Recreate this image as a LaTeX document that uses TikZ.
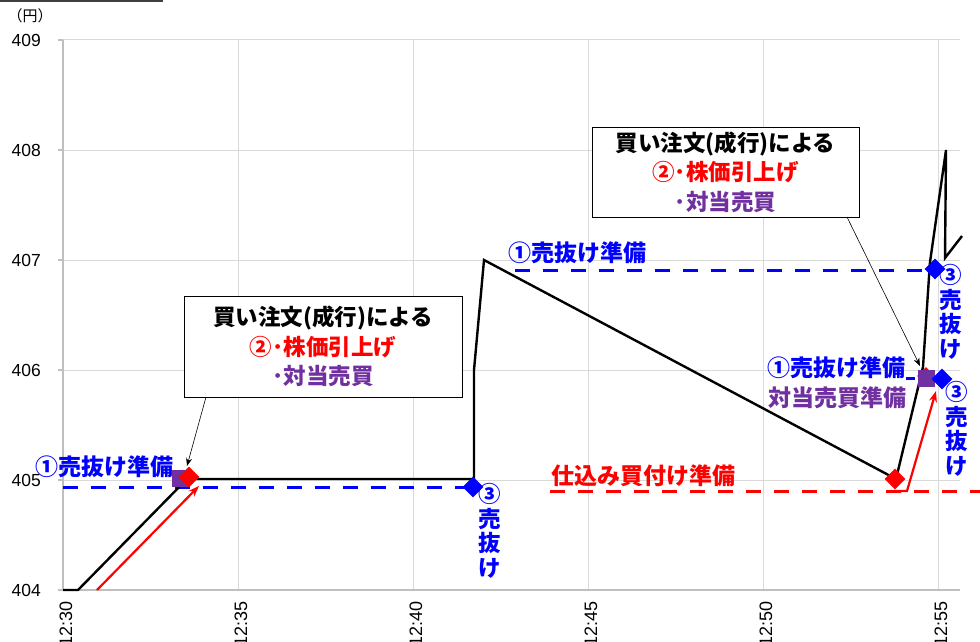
\documentclass[tikz,border=0pt]{standalone}
\usepackage{fontspec}
\setmainfont{Liberation Sans}
\newfontfamily\jp{Noto Sans CJK JP}
\usetikzlibrary{shapes.geometric,arrows.meta}
\definecolor{gridc}{HTML}{D9D9D9}
\definecolor{axisc}{HTML}{BFBFBF}
\definecolor{pur}{HTML}{7030A0}
\definecolor{bl}{HTML}{0000FF}
\definecolor{rd}{HTML}{FF0000}
\begin{document}
\begin{tikzpicture}[x=1pt,y=-1pt,
  gridline/.style={draw=gridc,line width=1pt},
  axisline/.style={draw=axisc,line width=1.5pt},
  ylab/.style={font=\fontsize{17.5}{20}\selectfont,anchor=east,inner sep=0pt},
  xlab/.style={font=\fontsize{18}{20}\selectfont,rotate=90,anchor=east,inner sep=0pt},
  dataline/.style={draw=black,line width=2.4pt,line join=miter},
  bluedash/.style={draw=bl,line width=3pt,dash pattern=on 15pt off 13pt},
  reddash/.style={draw=rd,line width=3pt,dash pattern=on 15pt off 13pt},
  redarrow/.style={draw=rd,line width=2.2pt,-{Stealth[length=11pt,width=8pt]}},
  callout/.style={draw=black,line width=0.6pt,-{Stealth[length=8pt,width=6pt]}},
  dia/.style={diamond,minimum width=21pt,minimum height=21pt,inner sep=0pt},
  sq/.style={rectangle,minimum width=17pt,minimum height=17pt,inner sep=0pt,fill=pur},
  jpb/.style={font=\jp\bfseries\fontsize{23}{26}\selectfont,inner sep=0pt},
  vstack/.style={font=\jp\bfseries\fontsize{22.5}{24.5}\selectfont,align=center,inner sep=0pt,text=bl},
  note/.style={draw=black,line width=1pt,fill=white,align=center,inner sep=0pt,
    font=\jp\bfseries\fontsize{22.5}{29.5}\selectfont}
]
\useasboundingbox (0,0) rectangle (980,642);
\clip (0,0) rectangle (980,642);
% top fragment line
\draw[draw=black!75,line width=2pt] (0,1) -- (163,1);
% grid
\foreach \yy in {40,150,260,370,480} \draw[gridline] (58,\yy) -- (960,\yy);
\foreach \xx in {238,413,588,763,938} \draw[gridline] (\xx,40) -- (\xx,590);
\foreach \yy in {40,150,260,370,480,590} \draw[axisline] (58,\yy) -- (63,\yy);
\draw[axisline] (63,40) -- (63,590) -- (960,590);
% y labels
\node[font=\jp\fontsize{15}{17}\selectfont,inner sep=0pt] (unit) at (30,16) {（円）};
\node[ylab] (y409) at (41,40) {409};
\node[ylab] (y408) at (41,150) {408};
\node[ylab] (y407) at (41,260) {407};
\node[ylab] (y406) at (41,370) {406};
\node[ylab] (y405) at (41,480) {405};
\node[ylab] (y404) at (41,590) {404};
% x labels
\node[xlab] (x30) at (66,601) {12:30};
\node[xlab] (x35) at (241,601) {12:35};
\node[xlab] (x40) at (416,601) {12:40};
\node[xlab] (x45) at (591,601) {12:45};
\node[xlab] (x50) at (766,601) {12:50};
\node[xlab] (x55) at (941,601) {12:55};
% dashed levels
\draw[bluedash] (63,487) -- (468,487);
\draw[bluedash] (515,270) -- (932,270);
\draw[reddash] (550,491) -- (980,491);
\draw[draw=bl,line width=3pt] (906,378) -- (915,378);
% price line
\draw[dataline] (63,590) -- (78,590) -- (187,479) -- (474,479) -- (474,370) -- (484,260)
  -- (896,479) -- (923,367) -- (930,262) -- (946,150) -- (945,258) -- (962,236);
% red arrows
\coordinate (ra1s) at (97,590);
\coordinate (ra1e) at (199,486);
\draw[redarrow] (ra1s) -- (ra1e);
\coordinate (ra2s) at (895,491);
\coordinate (ra2m) at (907,491);
\coordinate (ra2e) at (936,391);
\draw[redarrow] (ra2s) -- (ra2m) -- (ra2e);
% markers
\node[sq] (sqL) at (180,478) {};
\node[dia,fill=rd] (rdL) at (189,477) {};
\node[dia,fill=bl] (bdL) at (473,487) {};
\node[dia,fill=rd] (rdR1) at (895,479) {};
\node[dia,fill=rd,minimum width=18pt,minimum height=18pt] (rdR2) at (926,376) {};
\node[sq] (sqR) at (926,378) {};
\node[dia,fill=bl] (bdR1) at (935,269) {};
\node[dia,fill=bl] (bdR2) at (942,379) {};
% annotation boxes
\node[note,minimum width=278pt,minimum height=101pt] (boxL) at (323,346.5)
  {買い注文(成行)による\\\textcolor{rd}{②･株価引上げ}\\\textcolor{pur}{･対当売買}};
\node[note,minimum width=267pt,minimum height=90pt] (boxR) at (725.5,172)
  {買い注文(成行)による\\\textcolor{rd}{②･株価引上げ}\\\textcolor{pur}{･対当売買}};
\coordinate (cLs) at (206,397);
\coordinate (cLe) at (187,466);
\draw[callout] (cLs) -- (cLe);
\coordinate (cRs) at (847,217);
\coordinate (cRe) at (920,366);
\draw[callout] (cRs) -- (cRe);
% labels
\node[jpb,text=bl] (lbl1) at (104,467) {①売抜け準備};
\node[jpb,text=bl] (lbl2) at (577,253) {①売抜け準備};
\node[jpb,text=bl,anchor=east] (lbl3) at (906,368) {①売抜け準備};
\node[jpb,text=pur,anchor=east] (lbl4) at (907,398) {対当売買準備};
\node[jpb,text=rd] (lbl5) at (643,476) {仕込み買付け準備};
\node[vstack] (v1) at (490,531) {③\\売\\抜\\け};
\node[vstack] (v2) at (951,312) {③\\売\\抜\\け};
\node[vstack] (v3) at (957,429) {③\\売\\抜\\け};
\end{tikzpicture}
\end{document}
